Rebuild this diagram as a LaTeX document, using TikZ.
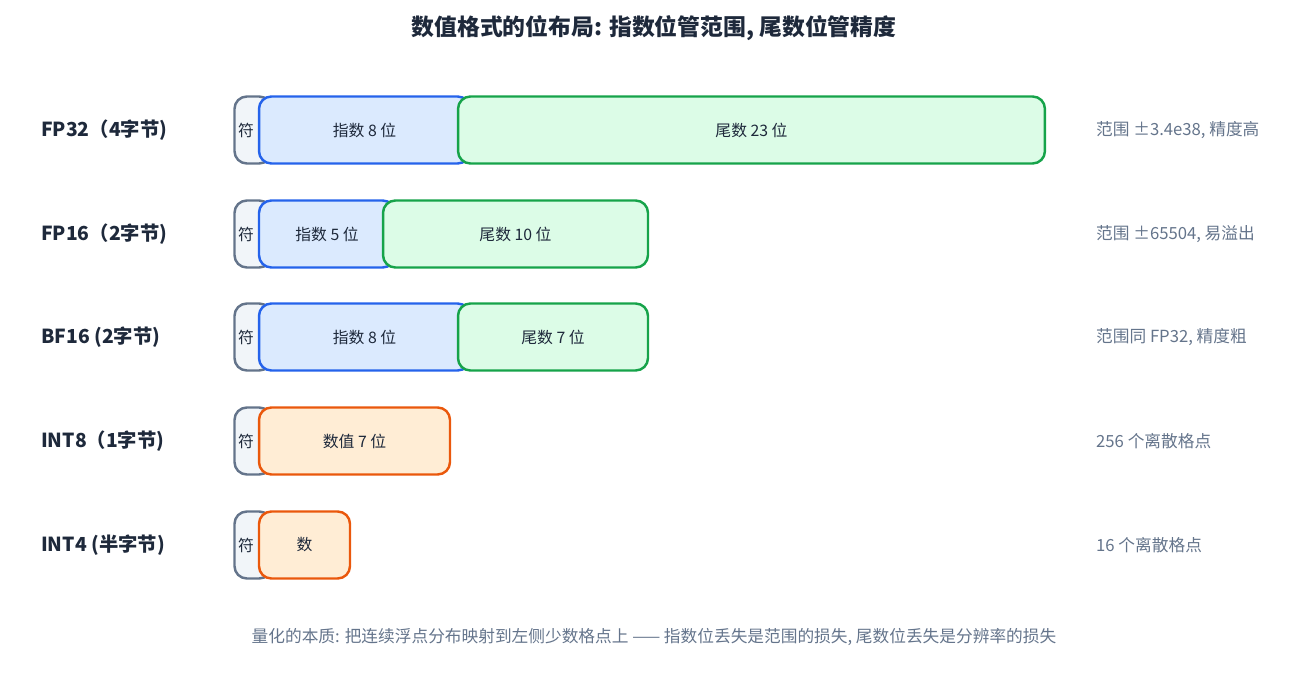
\documentclass[tikz,border=0pt]{standalone}
\usepackage{fontspec}
\setmainfont{Noto Sans CJK SC}
\usetikzlibrary{positioning}
\definecolor{ink}{HTML}{1E293B}
\definecolor{muted}{HTML}{64748B}
\definecolor{expline}{HTML}{2563EB}
\definecolor{expfill}{HTML}{DBEAFE}
\definecolor{manline}{HTML}{16A34A}
\definecolor{manfill}{HTML}{DCFCE7}
\definecolor{intline}{HTML}{EA580C}
\definecolor{intfill}{HTML}{FFEDD5}
\definecolor{sgnfill}{HTML}{F1F5F9}
\tikzset{
  field/.style={rounded corners=7pt,line width=1.4pt,minimum height=1.34cm,
    inner sep=0pt,font=\fontsize{9}{11}\selectfont,text=ink},
  sgn/.style={field,draw=muted,fill=sgnfill,minimum width=0.74cm,text width=0.6cm,align=left},
  expo/.style={field,draw=expline,fill=expfill},
  mant/.style={field,draw=manline,fill=manfill},
  ival/.style={field,draw=intline,fill=intfill},
  fmt/.style={anchor=west,font=\fontsize{11}{13}\selectfont\bfseries,text=ink},
  note/.style={anchor=west,font=\fontsize{9.5}{11}\selectfont,text=muted}
}
\begin{document}
\begin{tikzpicture}[x=0.02cm,y=-0.02cm]
        \useasboundingbox (0,0) rectangle (1308,679);
        \node[font=\fontsize{13}{15}\selectfont\bfseries,text=ink] (title) at (654,28) {数值格式的位布局: 指数位管范围, 尾数位管精度};
        \path
        % FP32
        (35,130) node[fmt] (fp32) {FP32（4字节)}
        (253,130) node[sgn] (sgnA) {符}
        (364.5,130) node[expo,minimum width=4.22cm] (expA) {指数 8 位}
        (751.5,130) node[mant,minimum width=11.74cm] (manA) {尾数 23 位}
        (1090,130) node[note] (rngA) {范围 ±3.4e38, 精度高}
        % FP16
        (35,234) node[fmt] (fp16) {FP16（2字节)}
        (253,234) node[sgn] (sgnB) {符}
        (327,234) node[expo,minimum width=2.72cm] (expB) {指数 5 位}
        (515.5,234) node[mant,minimum width=5.3cm] (manB) {尾数 10 位}
        (1090,234) node[note] (rngB) {范围 ±65504, 易溢出}
        % BF16
        (35,337) node[fmt] (bf16) {BF16 (2字节)}
        (253,337) node[sgn] (sgnC) {符}
        (364.5,337) node[expo,minimum width=4.22cm] (expC) {指数 8 位}
        (553,337) node[mant,minimum width=3.8cm] (manC) {尾数 7 位}
        (1090,337) node[note] (rngC) {范围同 FP32, 精度粗}
        % INT8
        (35,441) node[fmt] (int8) {INT8（1字节)}
        (253,441) node[sgn] (sgnD) {符}
        (354.5,441) node[ival,minimum width=3.82cm] (valD) {数值 7 位}
        (1090,441) node[note] (rngD) {256 个离散格点}
        % INT4
        (35,545) node[fmt] (int4) {INT4 (半字节)}
        (253,545) node[sgn] (sgnE) {符}
        (304.5,545) node[ival,minimum width=1.82cm] (valE) {数}
        (1090,545) node[note] (rngE) {16 个离散格点};
        \node[font=\fontsize{9.5}{11}\selectfont,text=muted] (summary) at (654,637) {量化的本质: 把连续浮点分布映射到左侧少数格点上 —— 指数位丢失是范围的损失, 尾数位丢失是分辨率的损失};
    \end{tikzpicture}
\end{document}
